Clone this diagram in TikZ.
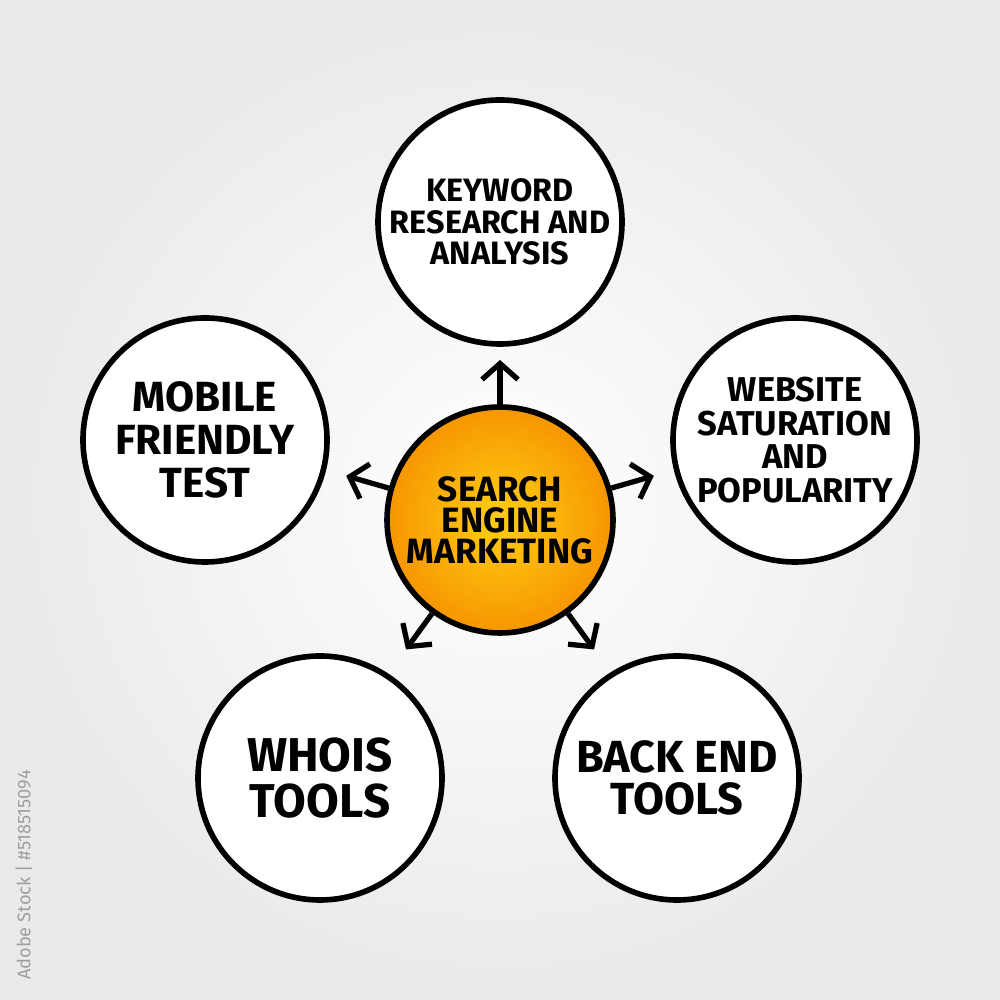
\documentclass[tikz,border=0pt]{standalone}
\usepackage{fontspec}
\setmainfont{Fira Sans}
\usetikzlibrary{shapes,arrows.meta,positioning,calc}
\usepackage{xcolor}
\definecolor{semorange}{RGB}{246,150,0}
\definecolor{semyellow}{RGB}{255,206,20}
\definecolor{bggray}{RGB}{234,234,234}

\begin{document}
\begin{tikzpicture}
    \tikzset{
        topic/.style={circle, draw, line width=1.6pt, fill=white, minimum size=2.44cm, inner sep=0pt, align=center},
        spoke/.style={line width=1.5pt, -{Straight Barb[length=1.6mm, width=3.6mm, line width=1.5pt]}}
    }
    \useasboundingbox (0,0) rectangle (10,10);
    \shade[inner color=white, outer color=bggray] (0,0) rectangle (10,10);

    \node[circle, draw, line width=1.6pt, inner color=semyellow, outer color=semorange, minimum size=2.26cm, inner sep=0pt, align=center, font=\bfseries\fontsize{10}{8.8}\selectfont] (sem) at (5,4.8) {SEARCH\\ENGINE\\MARKETING};

    \node[topic, font=\bfseries\fontsize{9.2}{9}\selectfont] (keyword) at (5,7.78) {KEYWORD\\RESEARCH AND\\ANALYSIS};
    \node[topic, font=\bfseries\fontsize{12}{12.2}\selectfont] (mobile) at (2.05,5.6) {MOBILE\\FRIENDLY\\TEST};
    \node[topic, font=\bfseries\fontsize{9.8}{9.6}\selectfont] (website) at (7.95,5.6) {WEBSITE\\SATURATION\\AND\\POPULARITY};
    \node[topic, font=\bfseries\fontsize{13.5}{13}\selectfont] (whois) at (3.2,2.22) {WHOIS\\TOOLS};
    \node[topic, font=\bfseries\fontsize{12.8}{12}\selectfont] (backend) at (6.77,2.22) {BACK END\\TOOLS};

    \foreach \ang/\name in {90/kwTip, 164/mobTip, 16/webTip, 234/whoTip, 306/backTip}
        \coordinate (\name) at ($(sem)+(\ang:1.6)$);
    \draw[spoke] (sem.90) -- (kwTip);
    \draw[spoke] (sem.164) -- (mobTip);
    \draw[spoke] (sem.16) -- (webTip);
    \draw[spoke] (sem.234) -- (whoTip);
    \draw[spoke] (sem.306) -- (backTip);

    \node[rotate=90, text=gray!75, font=\fontsize{5.2}{6}\selectfont, inner sep=0pt] (stockid) at (0.24,1.25) {Adobe Stock | \#518515094};
\end{tikzpicture}
\end{document}
